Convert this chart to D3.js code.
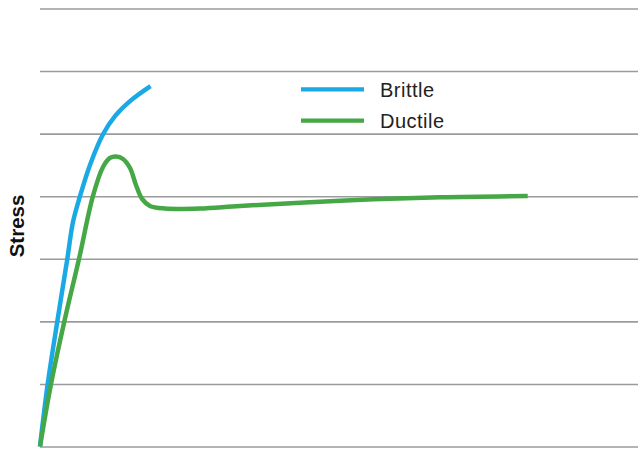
<!DOCTYPE html>
<html>
<head>
<meta charset="utf-8">
<script src="https://cdn.jsdelivr.net/npm/d3@7"></script>
<style>
  html, body { margin: 0; padding: 0; background: #fff; }
  svg { display: block; }
</style>
</head>
<body>
<svg id="chart" width="638" height="450"></svg>
<script>
// ---- data (strain in arbitrary units, stress in gridline units) ----
const stressTicks = [0, 1, 2, 3, 4, 5, 6, 7];

const brittleStrain = [0, 0.129, 0.289, 0.457, 0.552, 0.669, 0.836, 1.054, 1.254, 1.505, 1.848];
const brittleStress = [0, 1.0, 1.995, 3.0, 3.59, 4.0, 4.5, 4.99, 5.28, 5.52, 5.76];

const ductileStrain = [0, 0.184, 0.406, 0.652, 0.886, 1.054, 1.171, 1.271, 1.388, 1.505, 1.605, 1.706, 1.839, 2.090, 2.676, 3.344, 5.017, 6.689, 8.156];
const ductileStress = [0, 0.999, 1.995, 2.997, 4.004, 4.467, 4.611, 4.635, 4.595, 4.451, 4.18, 3.957, 3.845, 3.804, 3.804, 3.844, 3.928, 3.983, 4.004];

const seriesNames = ["Brittle", "Ductile"];
const seriesColors = ["#1aa9e5", "#45a745"];
const axisTitle = "Stress";

// ---- layout ----
const svg = d3.select("#chart");
const x = d3.scaleLinear().domain([0, 10]).range([40, 638]);
const y = d3.scaleLinear().domain([0, 7]).range([446.5, 8.5]);

// gridlines via axis
const grid = svg.append("g")
  .attr("transform", `translate(40,0)`)
  .call(d3.axisRight(y).tickValues(stressTicks).tickSize(598).tickFormat(""));
grid.select(".domain").remove();
grid.selectAll(".tick line").attr("stroke", "#9b9b9b").attr("stroke-width", 1.6);

// y title
svg.append("text")
  .attr("transform", "translate(24,226) rotate(-90)")
  .attr("text-anchor", "middle")
  .attr("font-family", "Liberation Sans, Arial, Helvetica, sans-serif")
  .attr("font-weight", "bold")
  .attr("font-size", 20.5)
  .attr("fill", "#111")
  .text(axisTitle);

// lines
const line = d3.line()
  .x(d => x(d[0]))
  .y(d => y(d[1]))
  .curve(d3.curveCatmullRom.alpha(0.5));

const series = [
  d3.zip(brittleStrain, brittleStress),
  d3.zip(ductileStrain, ductileStress)
];

series.forEach((pts, i) => {
  svg.append("path")
    .datum(pts)
    .attr("d", line)
    .attr("fill", "none")
    .attr("stroke", seriesColors[i])
    .attr("stroke-width", 4.5)
    .attr("stroke-linejoin", "round");
});

// legend
const legend = svg.append("g");
const legendY = [89.3, 120.7];
seriesNames.forEach((name, i) => {
  legend.append("line")
    .attr("x1", 301).attr("x2", 364)
    .attr("y1", legendY[i]).attr("y2", legendY[i])
    .attr("stroke", seriesColors[i])
    .attr("stroke-width", 4.2);
  legend.append("text")
    .attr("x", 380)
    .attr("y", legendY[i] + 7.4)
    .attr("font-family", "Liberation Sans, Arial, Helvetica, sans-serif")
    .attr("font-size", 20)
    .attr("letter-spacing", 0.5)
    .attr("fill", "#222")
    .text(name);
});
</script>
</body>
</html>
